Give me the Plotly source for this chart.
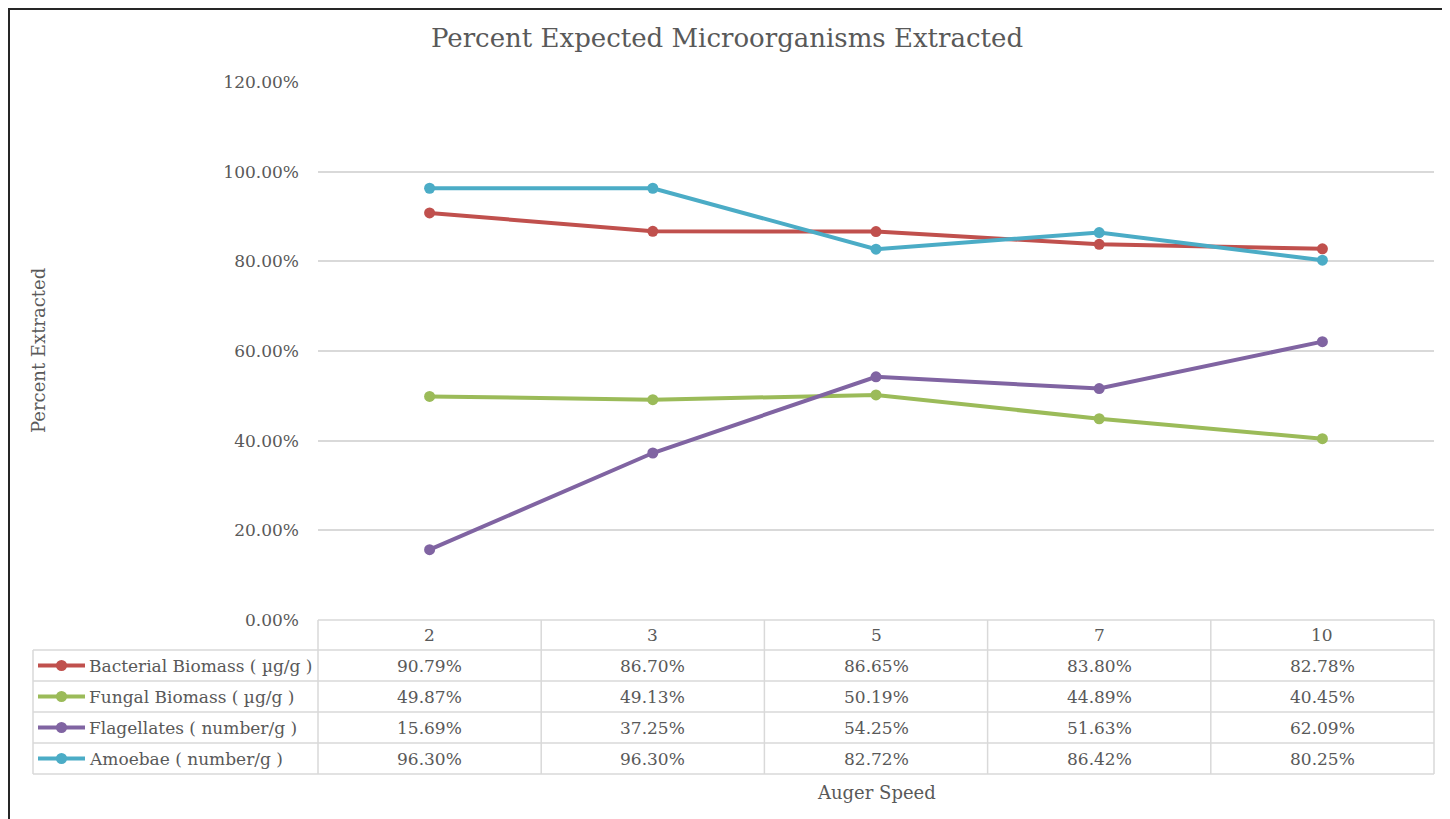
import plotly.graph_objects as go

categories = ["2", "3", "5", "7", "10"]
series_names = ["Bacterial Biomass ( µg/g )", "Fungal Biomass ( µg/g )",
                "Flagellates ( number/g )", "Amoebae ( number/g )"]
bacterial = [0.9079, 0.8670, 0.8665, 0.8380, 0.8278]
fungal = [0.4987, 0.4913, 0.5019, 0.4489, 0.4045]
flagellates = [0.1569, 0.3725, 0.5425, 0.5163, 0.6209]
amoebae = [0.9630, 0.9630, 0.8272, 0.8642, 0.8025]
series_values = [bacterial, fungal, flagellates, amoebae]
colors = ["#C0504D", "#9BBB59", "#8064A2", "#4BACC6"]
y_ticks = [0, 0.2, 0.4, 0.6, 0.8, 1.0, 1.2]

OFF = 8  # page body margin
W, H = 1450 - OFF, 819 - OFF
# plot area in page pixels: x 318..1434, y 82..620
L = 318 - OFF
R = W - (1434 - OFF)
T = 82 - OFF
B = H - (620 - OFF)
PW = W - L - R
PH = H - T - B
FONT = "DejaVu Serif"
TXT = "#595959"
GRID = "#D9D9D9"


def px(x):
    """page pixel x -> paper fraction"""
    return (x - OFF - L) / PW


def py(y):
    """page pixel y -> paper fraction"""
    return (H - B - (y - OFF)) / PH


fig = go.Figure()
xs = list(range(len(categories)))
for name, vals, c in zip(series_names, series_values, colors):
    fig.add_trace(go.Scatter(x=xs, y=vals, name=name, mode="lines+markers",
                             line=dict(color=c, width=4),
                             marker=dict(color=c, size=11),
                             showlegend=False, cliponaxis=False))

shapes = []
annotations = []

# table geometry (page pixels)
row_h = 31
header_top = 620
header_bot = 650
table_left = 33
table_right = 1434
plot_left = 318
table_bottom = header_bot + row_h * len(series_names)
col_w = (table_right - plot_left) / len(categories)
tl = dict(color=GRID, width=1.5)

shapes.append(dict(type="line", xref="paper", yref="paper", x0=px(plot_left), x1=px(table_right),
                   y0=py(header_top), y1=py(header_top), line=tl))
for i in range(len(series_names) + 1):
    yy = header_bot + i * row_h
    shapes.append(dict(type="line", xref="paper", yref="paper", x0=px(table_left), x1=px(table_right),
                       y0=py(yy), y1=py(yy), line=tl))
for j in range(len(categories) + 1):
    xx = plot_left + j * col_w
    shapes.append(dict(type="line", xref="paper", yref="paper", x0=px(xx), x1=px(xx),
                       y0=py(header_top), y1=py(table_bottom), line=tl))
shapes.append(dict(type="line", xref="paper", yref="paper", x0=px(table_left), x1=px(table_left),
                   y0=py(header_bot), y1=py(table_bottom), line=tl))

tfont = dict(family=FONT, size=17, color=TXT)
for i, cat in enumerate(categories):
    annotations.append(dict(x=i, y=py((header_top + header_bot) / 2), xref="x", yref="paper",
                            xanchor="center", yanchor="middle",
                            text=cat, showarrow=False, font=tfont))

for r, (name, vals, c) in enumerate(zip(series_names, series_values, colors)):
    yc = header_bot + r * row_h + row_h / 2
    shapes.append(dict(type="line", xref="paper", yref="paper", x0=px(38), x1=px(85),
                       y0=py(yc), y1=py(yc), line=dict(color=c, width=4)))
    shapes.append(dict(type="circle", xref="paper", yref="paper", x0=px(56), x1=px(67),
                       y0=py(yc - 5.5), y1=py(yc + 5.5), fillcolor=c, line=dict(color=c, width=0)))
    annotations.append(dict(x=px(87), y=py(yc), xref="paper", yref="paper",
                            xanchor="left", yanchor="middle",
                            text=name, showarrow=False, font=tfont))
    for i, v in enumerate(vals):
        annotations.append(dict(x=i, y=py(yc), xref="x", yref="paper",
                                xanchor="center", yanchor="middle",
                                text=f"{v*100:.2f}%", showarrow=False, font=tfont))

afont = dict(family=FONT, size=18, color=TXT)
annotations.append(dict(x=0.5, y=py(793), xref="paper", yref="paper", text="Auger Speed",
                        xanchor="center", yanchor="middle", showarrow=False, font=afont))
annotations.append(dict(x=px(38), y=0.5, xref="paper", yref="paper", text="Percent Extracted",
                        xanchor="center", yanchor="middle",
                        textangle=-90, showarrow=False, font=afont))

# outer frame (left, top, right)
fc = "#262626"
shapes.append(dict(type="line", xref="paper", yref="paper", x0=px(9), x1=px(9),
                   y0=py(8), y1=py(830), line=dict(color=fc, width=2)))
shapes.append(dict(type="line", xref="paper", yref="paper", x0=px(8), x1=px(1448),
                   y0=py(9), y1=py(9), line=dict(color=fc, width=2)))
shapes.append(dict(type="line", xref="paper", yref="paper", x0=px(1446), x1=px(1446),
                   y0=py(8), y1=py(830), line=dict(color=fc, width=3.5)))

fig.update_layout(
    width=W, height=H,
    margin=dict(l=L, r=R, t=T, b=B),
    paper_bgcolor="white", plot_bgcolor="white",
    title=dict(text="Percent Expected Microorganisms Extracted", x=(727 - OFF) / W, xanchor="center",
               xref="container", y=1 - (38 - OFF) / H, yanchor="middle",
               font=dict(family=FONT, size=26, color=TXT)),
    xaxis=dict(range=[-0.5, len(categories) - 0.5], showticklabels=False, showgrid=False,
               zeroline=False, showline=False, fixedrange=True),
    yaxis=dict(range=[0, 1.2], tickvals=y_ticks, tickformat=".2%", showgrid=True,
               gridcolor=GRID, gridwidth=1.5, zeroline=False, showline=False,
               tickfont=dict(family=FONT, size=17, color=TXT), ticks="", ticklabelstandoff=18),
    shapes=shapes, annotations=annotations,
)

fig.write_html("out.html")
